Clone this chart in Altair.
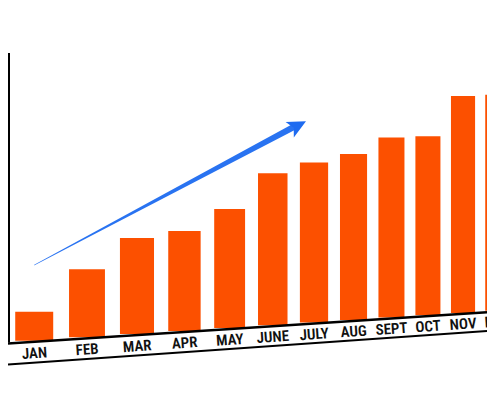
import math
import altair as alt
import pandas as pd

# ---- data ----
months = ["JAN", "FEB", "MAR", "APR", "MAY", "JUNE", "JULY", "AUG", "SEPT", "OCT", "NOV", "DEC"]
heights = [29, 68, 96, 100, 119, 152, 160, 166, 180, 179, 217, 216]

# trend arrow (annotation): month position, level, stroke width
trend_idx = [0.0, 5.5]
trend_val = [123, 261]
trend_width = [0.6, 6.5]
head_idx = [5.6]
head_val = [262.5]

# left axis extent
axis_top = [335]
axis_bottom = [45.5]

# ---- layout / perspective parameters ----
W, H = 479, 380
K = 17.4                      # perspective offset for the log x scale
PX = 944.1                    # px per log unit
X0 = 16.92
XD = [X0, X0 * math.exp(W / PX)]
BLUE = "#1E6BF0"
ORANGE = "#FC5000"
FONT = "'Liberation Sans Narrow', 'Roboto Condensed', 'Open Sans', sans-serif"


def tilt(a, b):
    """y (px above bottom) of a line that rises b px per page px."""
    return f"{a} + {b} * (8 + {PX} * log(datum.xv / {X0}))"


xs = alt.Scale(type="log", domain=XD, nice=False)
ys = alt.Scale(domain=[0, H], nice=False, zero=False)

df = pd.DataFrame({"month": months, "idx": list(range(len(months))), "h": heights})

base = (
    alt.Chart(df)
    .transform_calculate(xv=f"datum.idx + {K}")
    .transform_calculate(base=tilt(45, 0.065))
    .transform_calculate(ly=tilt(32.5, 0.068))
    .transform_calculate(top="datum.base + datum.h")
    .transform_calculate(x1="datum.xv - 0.35")
    .transform_calculate(x2="datum.xv + 0.35")
)

bars = base.mark_bar(color=ORANGE).encode(
    x=alt.X("x1:Q", scale=xs, axis=None),
    x2="x2:Q",
    y=alt.Y("top:Q", scale=ys, axis=None),
    y2="base:Q",
)

labels = base.mark_text(
    font=FONT, fontSize=15, fontWeight=600, angle=356, color="#111111",
    align="center", baseline="middle",
).encode(
    x=alt.X("xv:Q", scale=xs, axis=None),
    y=alt.Y("ly:Q", scale=ys, axis=None),
    text="month:N",
)

ax_df = pd.DataFrame({"xv": XD})
upper = alt.Chart(ax_df).transform_calculate(yy=tilt(44, 0.065)).mark_line(
    color="black", strokeWidth=2.5
).encode(x=alt.X("xv:Q", scale=xs, axis=None), y=alt.Y("yy:Q", scale=ys, axis=None))
lower = alt.Chart(ax_df).transform_calculate(yy=tilt(23, 0.07)).mark_line(
    color="black", strokeWidth=2
).encode(x=alt.X("xv:Q", scale=xs, axis=None), y=alt.Y("yy:Q", scale=ys, axis=None))

left_df = pd.DataFrame({"t": axis_top, "b": axis_bottom})
left = alt.Chart(left_df).mark_rule(color="black", strokeWidth=2).encode(
    x=alt.value(1),
    y=alt.Y("t:Q", scale=ys, axis=None),
    y2="b:Q",
)

arr_df = pd.DataFrame({"idx": trend_idx, "val": trend_val, "w": trend_width})
trail = (
    alt.Chart(arr_df)
    .transform_calculate(xv=f"datum.idx + {K}")
    .mark_trail(color=BLUE, opacity=0.95)
    .encode(
        x=alt.X("xv:Q", scale=xs, axis=None),
        y=alt.Y("val:Q", scale=ys, axis=None),
        size=alt.Size("w:Q", scale=alt.Scale(domain=[0, 10], range=[0, 10]), legend=None),
    )
)

head_df = pd.DataFrame({"idx": head_idx, "val": head_val})
head = (
    alt.Chart(head_df)
    .transform_calculate(xv=f"datum.idx + {K}")
    .mark_point(
        shape="M1,0 L-1,-0.95 L-0.5,0 L-1,0.95 Z",
        filled=True, size=340, angle=332, color=BLUE, opacity=1,
    )
    .encode(
        x=alt.X("xv:Q", scale=xs, axis=None),
        y=alt.Y("val:Q", scale=ys, axis=None),
    )
)

chart = (
    alt.layer(bars, upper, lower, left, labels, trail, head)
    .resolve_scale(size="independent")
    .properties(width=W, height=H, padding=0, autosize="none", background="white")
    .configure_view(stroke=None)
)

chart.save("out.html", embed_options={"renderer": "svg", "actions": False})
